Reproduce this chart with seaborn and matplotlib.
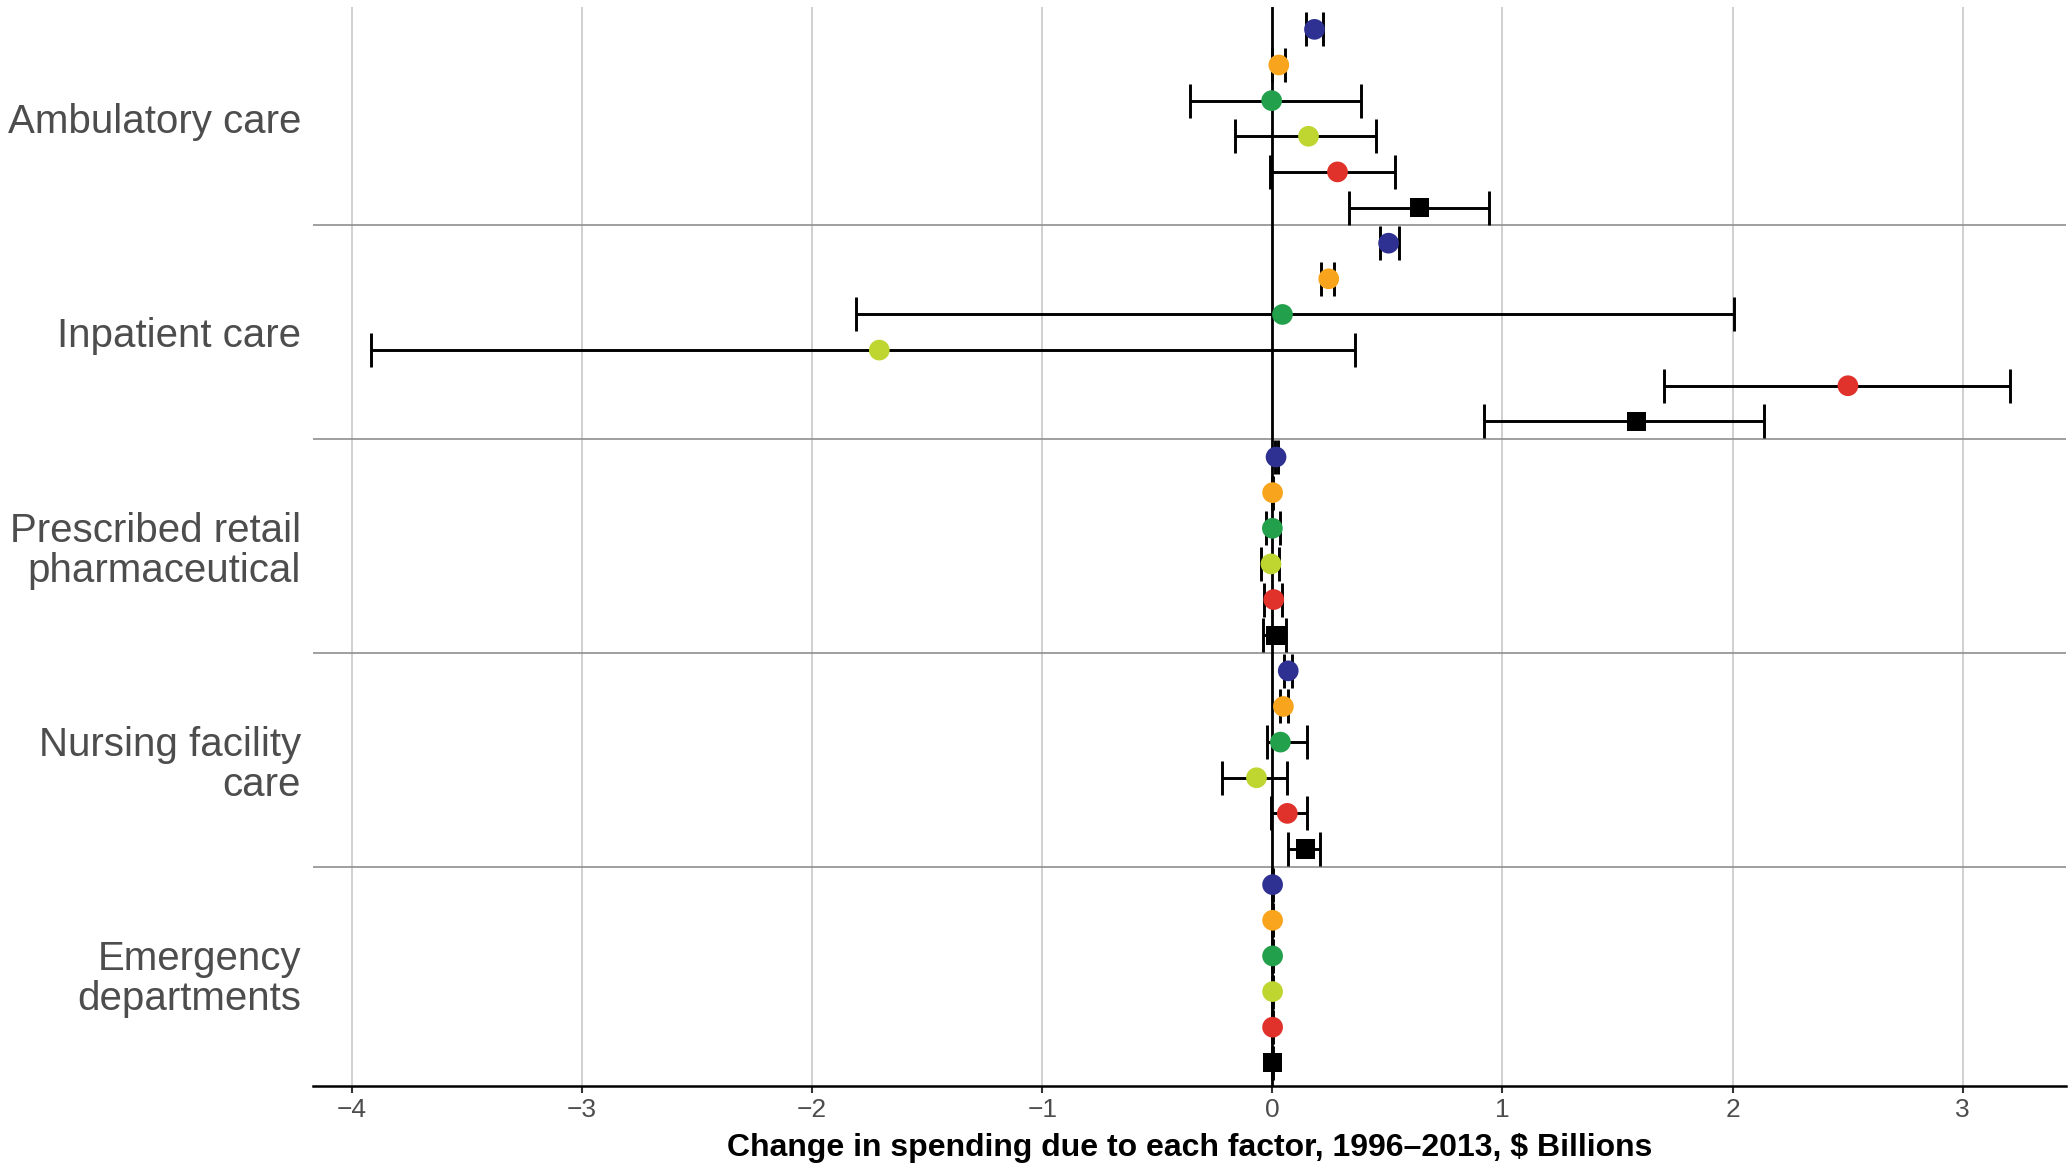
import matplotlib
matplotlib.use("Agg")
import matplotlib.pyplot as plt
import numpy as np
import pandas as pd
import seaborn as sns

# Spending categories, top to bottom
categories = [
    "Ambulatory care",
    "Inpatient care",
    "Prescribed retail\npharmaceutical",
    "Nursing facility\ncare",
    "Emergency\ndepartments",
]

# Decomposition factors within each category (last one is the combined change)
factors = [
    "Population growth",
    "Population ageing",
    "Disease prevalence",
    "Service utilization",
    "Price and intensity",
    "Total change",
]
factor_colors = ["#2E3192", "#F8A51D", "#22A04B", "#BED62F", "#E0312A", "#000000"]

# Point estimates and uncertainty intervals, $ billions
ambulatory_est = [0.183, 0.028, -0.003, 0.157, 0.283, 0.639]
ambulatory_low = [0.148, 0.000, -0.358, -0.164, -0.012, 0.333]
ambulatory_high = [0.220, 0.055, 0.384, 0.452, 0.533, 0.942]

inpatient_est = [0.505, 0.245, 0.044, -1.708, 2.501, 1.582]
inpatient_low = [0.466, 0.211, -1.810, -3.916, 1.703, 0.918]
inpatient_high = [0.550, 0.270, 2.007, 0.358, 3.207, 2.136]

pharma_est = [0.016, 0.001, 0.000, -0.006, 0.006, 0.016]
pharma_low = [0.010, -0.002, -0.028, -0.051, -0.038, -0.041]
pharma_high = [0.023, 0.004, 0.035, 0.030, 0.042, 0.059]

nursing_est = [0.069, 0.048, 0.035, -0.069, 0.065, 0.145]
nursing_low = [0.049, 0.032, -0.025, -0.220, -0.004, 0.067]
nursing_high = [0.087, 0.067, 0.150, 0.065, 0.150, 0.205]

emergency_est = [0.001, 0.001, 0.001, 0.001, 0.001, 0.001]
emergency_low = [0.000, 0.000, 0.000, 0.000, 0.000, 0.000]
emergency_high = [0.002, 0.002, 0.002, 0.002, 0.002, 0.002]

x_ticks = [-4, -3, -2, -1, 0, 1, 2, 3]

estimates = [ambulatory_est, inpatient_est, pharma_est, nursing_est, emergency_est]
lows = [ambulatory_low, inpatient_low, pharma_low, nursing_low, emergency_low]
highs = [ambulatory_high, inpatient_high, pharma_high, nursing_high, emergency_high]

rows = []
n_f = len(factors)
for gi, cat in enumerate(categories):
    for fi, fac in enumerate(factors):
        rows.append({
            "category": cat,
            "factor": fac,
            "pos": gi * n_f + fi,
            "estimate": estimates[gi][fi],
            "low": lows[gi][fi],
            "high": highs[gi][fi],
        })
df = pd.DataFrame(rows)

sns.set_theme(style="white")
plt.rcParams["font.family"] = ["Liberation Sans", "DejaVu Sans"]

fig = plt.figure(figsize=(20.7, 11.69), dpi=100)
ax = fig.add_axes([0.1514, 0.0713, 0.998 - 0.1514, 0.9944 - 0.0713])

# Vertical grid at integer values, separators between categories
ax.set_xticks(x_ticks)
ax.grid(axis="x", color="#c4c4c4", linewidth=1.1, zorder=0)
ax.grid(axis="y", visible=False)
for gi in range(1, len(categories)):
    ax.axhline(gi * n_f - 0.5, color="#8f8f8f", linewidth=1.2, zorder=1)

ax.axvline(0, color="black", linewidth=2.0, zorder=2)

# Uncertainty intervals
ax.errorbar(
    df["estimate"], df["pos"],
    xerr=[df["estimate"] - df["low"], df["high"] - df["estimate"]],
    fmt="none", ecolor="black", elinewidth=2.1, capsize=12, capthick=2.1, zorder=3,
)

# Point estimates
sns.scatterplot(
    data=df, x="estimate", y="pos", hue="factor", style="factor", size="factor",
    palette=dict(zip(factors, factor_colors)),
    markers=dict(zip(factors, ["o"] * 5 + ["s"])),
    sizes=dict(zip(factors, [222] * 5 + [190])),
    linewidth=0, legend=False, zorder=4, ax=ax,
)

ax.set_xlim(-4.167, 3.448)
ax.set_ylim(len(categories) * n_f - 0.36, -0.64)

ax.set_yticks([gi * n_f + (n_f - 1) / 2 for gi in range(len(categories))])
ax.set_yticklabels(categories, fontsize=29, color="#4d4d4d", linespacing=1.08,
                   multialignment="right")
ax.tick_params(axis="y", length=0, pad=9)
ax.tick_params(axis="x", length=5, width=1.5, color="#333333", labelsize=19,
               labelcolor="#4d4d4d", pad=4, bottom=True)

ax.set_ylabel("")
ax.set_xlabel("Change in spending due to each factor, 1996\u20132013, \\$ Billions",
              fontsize=23, fontweight="bold", color="black", labelpad=8)

for side in ["left", "top", "right"]:
    ax.spines[side].set_visible(False)
ax.spines["bottom"].set_color("black")
ax.spines["bottom"].set_linewidth(1.8)

fig.savefig("out.png", dpi=100, facecolor="white")
